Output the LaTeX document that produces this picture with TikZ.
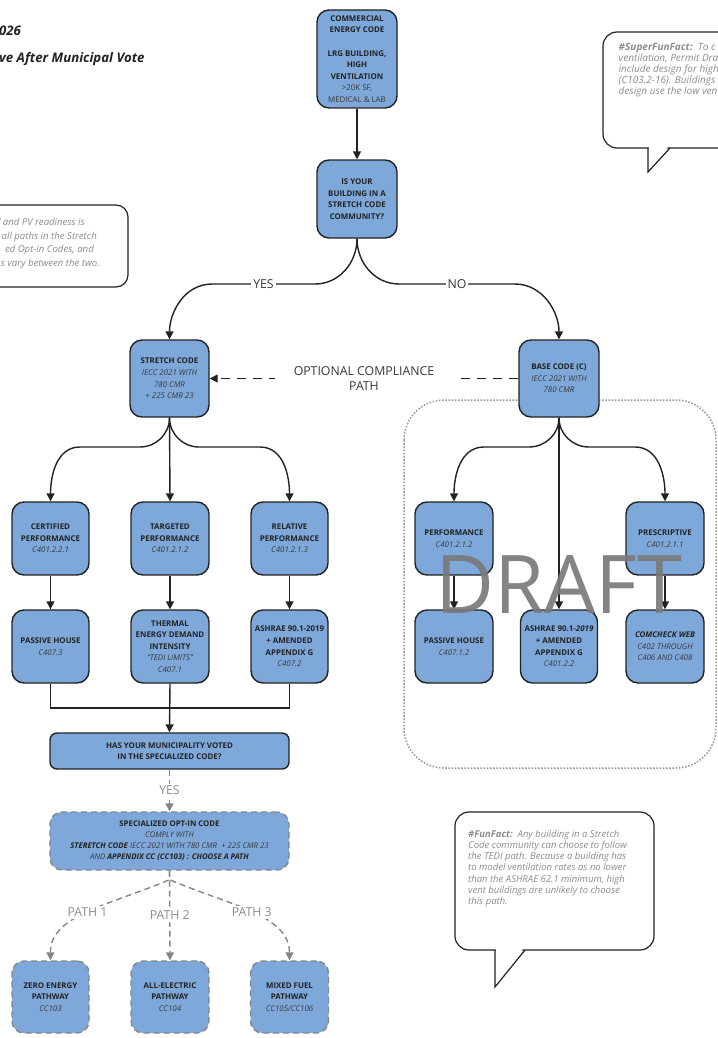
\documentclass[tikz,border=0pt]{standalone}
\usepackage{fontspec}
\setmainfont{Open Sans}
\usetikzlibrary{arrows.meta}

\definecolor{boxblue}{HTML}{7EA8D9}
\definecolor{ink}{HTML}{222222}
\definecolor{subink}{HTML}{383838}
\definecolor{softgray}{HTML}{8C8C8C}
\definecolor{dashgray}{HTML}{858585}
\definecolor{dotgray}{HTML}{9A9A9A}

\newcommand\subtxt[1]{{\mdseries\itshape\color{subink}#1}}
\newcommand\regtxt[1]{{\mdseries\color{subink}#1}}

\tikzset{
  box/.style={draw=ink, line width=1.4pt, fill=boxblue, rounded corners=12pt,
    inner sep=1pt, align=center, text=ink,
    font=\fontsize{7.9}{11.6}\selectfont\bfseries},
  optbox/.style={box, draw=dashgray, dash pattern=on 6pt off 4pt},
  plain/.style={draw=ink, line width=1.4pt},
  link/.style={plain, -{Triangle[length=8pt,width=8pt]}},
  optlink/.style={draw=dashgray, line width=1.4pt, dash pattern=on 6pt off 4pt,
    -{Triangle[length=8pt,width=8pt]}},
  altlink/.style={link, dash pattern=on 9pt off 7pt},
  lab/.style={fill=white, inner sep=2pt, text=subink, font=\fontsize{12.3}{15}\selectfont},
  glab/.style={lab, text=softgray},
  callout/.style={draw=ink, line width=1.2pt, fill=white},
  calltext/.style={inner sep=0pt, align=left, text=softgray,
    font=\fontsize{9.5}{11.2}\selectfont\itshape},
  title/.style={inner sep=0pt, text=ink, font=\fontsize{13.2}{15}\selectfont\bfseries\itshape},
}

\begin{document}
\begin{tikzpicture}[x=1pt,y=-1pt]
\useasboundingbox (0,0) rectangle (717,1038);

% heading
\node[title, anchor=base west] (t1) at (-1,35.5) {026};
\node[title, anchor=base west] (t2) at (-1,62.5) {ve After Municipal Vote};

% speech bubble, upper right
\draw[callout, rounded corners=14pt] (603,32) rectangle (790,148);
\fill[white] (648.8,146.2) -- (648.8,170) -- (668.5,146.2) -- cycle;
\draw[callout, fill=none, line join=miter] (648,148) -- (648,172) -- (670,148);
\foreach \txt/\yb [count=\i] in {{{\bfseries\#SuperFunFact:}\ \ To c}/51,
    {ventilation, Permit Dra}/62,
    {include design for high}/73,
    {(C103.2-16). Buildings}/84,
    {design use the low ven}/95}
  \node[calltext, font=\fontsize{10}{11}\selectfont\itshape, anchor=base west]
    (sf\i) at (618.5,\yb) {\txt};

% note box, left
\draw[callout, rounded corners=12pt] (-40,205) rectangle (128,287);
\foreach \txt/\xe/\yb [count=\i] in {V and PV readiness is/85/225,
    all paths in the Stretch/97/239,
    ed Opt-in Codes{,} and/94/252,
    s vary between the two./100/266}
  \node[calltext, font=\fontsize{9.6}{13}\selectfont\itshape, anchor=base east]
    (lc\i) at (\xe,\yb) {\txt};

% speech bubble, lower right
\draw[callout, rounded corners=14pt] (455,812) rectangle (654,950);
\fill[white] (495.8,948.2) -- (495.8,984) -- (523.5,948.2) -- cycle;
\draw[callout, fill=none, line join=miter] (495,950) -- (495,987) -- (525,950);
\node[calltext, anchor=west] (ff) at (468,868.5)
  {{\bfseries\#FunFact:}\ \ Any building in a Stretch\\
   Code community can choose to follow\\
   the TEDI path. Because a building has\\
   to model ventilation rates as no lower\\
   than the ASHRAE 62.1 minimum, high\\
   vent buildings are unlikely to choose\\
   this path.};

% optional-path region
\draw[dotgray, line width=1.5pt, dash pattern=on 1.6pt off 1.6pt, rounded corners=40pt]
  (404,400) rectangle (716,768);

% decision chain
\node[box, minimum width=80pt, minimum height=98pt] (top) at (357,59)
  {COMMERCIAL\\ENERGY CODE\\[11.6pt]LRG BUILDING,\\HIGH\\VENTILATION\\
   \regtxt{>20K SF,}\\\regtxt{MEDICAL \& LAB}};
\node[box, minimum width=80pt, minimum height=78pt] (q) at (357,199)
  {IS YOUR\\BUILDING IN A\\STRETCH CODE\\COMMUNITY?};

\node[box, minimum width=79pt, minimum height=77pt] (stretch) at (169.5,378.5)
  {STRETCH CODE\\\subtxt{IECC 2021 WITH}\\\subtxt{780 CMR}\\\subtxt{+ 225 CMR 23}};
\node[box, minimum width=80pt, minimum height=77pt] (base) at (559,378.5)
  {BASE CODE (C)\\\subtxt{IECC 2021 WITH}\\\subtxt{780 CMR}};

% stretch code paths
\node[box, minimum width=77pt, minimum height=73pt] (cert) at (50.5,538.5)
  {CERTIFIED\\PERFORMANCE\\\subtxt{C401.2.2.1}};
\node[box, minimum width=78pt, minimum height=73pt] (targ) at (170,538.5)
  {TARGETED\\PERFORMANCE\\\subtxt{C401.2.1.2}};
\node[box, minimum width=77pt, minimum height=73pt] (rel) at (289.5,538.5)
  {RELATIVE\\PERFORMANCE\\\subtxt{C401.2.1.3}};

\node[box, minimum width=77pt, minimum height=73pt] (ph) at (50.5,646.5)
  {PASSIVE HOUSE\\\subtxt{C407.3}};
\node[box, minimum width=78pt, minimum height=73pt] (tedi) at (170,646.5)
  {THERMAL\\ENERGY DEMAND\\INTENSITY\\\subtxt{"TEDI LIMITS"}\\\subtxt{C407.1}};
\node[box, minimum width=77pt, minimum height=73pt] (ash) at (289.5,646.5)
  {ASHRAE 90.1-2019\\+ AMENDED\\APPENDIX G\\\subtxt{C407.2}};

% base code paths
\node[box, minimum width=78pt, minimum height=73pt] (perf) at (454,538.5)
  {PERFORMANCE\\\subtxt{C401.2.1.2}};
\node[box, minimum width=78pt, minimum height=73pt] (presc) at (665,538.5)
  {PRESCRIPTIVE\\\subtxt{C401.2.1.1}};
\node[box, minimum width=78pt, minimum height=73pt] (ph2) at (454,646.5)
  {PASSIVE HOUSE\\\subtxt{C407.1.2}};
\node[box, minimum width=77pt, minimum height=73pt] (ash2) at (559,646.5)
  {ASHRAE 90.1-\textit{2019}\\+ AMENDED\\APPENDIX G\\\subtxt{C401.2.2}};
\node[box, minimum width=78pt, minimum height=73pt] (com) at (665,646.5)
  {\textit{COMCHECK WEB}\\\subtxt{C402 THROUGH}\\\subtxt{C406 AND C408}};

% specialized code
\node[box, rounded corners=7pt, minimum width=239pt, minimum height=36pt] (muni) at (169.5,751)
  {HAS YOUR MUNICIPALITY VOTED\\IN THE SPECIALIZED CODE?};
\node[optbox, font=\fontsize{7.8}{11}\selectfont\bfseries, minimum width=239pt, minimum height=58pt] (spec) at (169.5,841)
  {SPECIALIZED OPT-IN CODE\\\subtxt{COMPLY WITH}\\
   \textit{STERETCH CODE} \subtxt{IECC 2021 WITH 780 CMR\ \ + 225 CMR 23}\\
   \subtxt{AND} \textit{APPENDIX CC (CC103) : CHOOSE A PATH}};

\node[optbox, minimum width=77pt, minimum height=72pt] (zero) at (50.5,997)
  {ZERO ENERGY\\PATHWAY\\\subtxt{CC103}};
\node[optbox, minimum width=78pt, minimum height=72pt] (allel) at (170,997)
  {ALL-ELECTRIC\\PATHWAY\\\subtxt{CC104}};
\node[optbox, minimum width=78pt, minimum height=72pt] (mixed) at (289.5,997)
  {MIXED FUEL\\PATHWAY\\\subtxt{CC105/CC106}};

% connectors
\draw[link] (top.south) -- (q.north);
\draw[link] (q.south) to[out=-90,in=0] (315,284) -- node[lab]{YES} (212,284)
  to[out=180,in=90] (stretch.north);
\draw[link] (q.south) to[out=-90,in=180] (399,284) -- node[lab]{NO} (515,284)
  to[out=0,in=90] (base.north);
\draw[altlink] (base.west) -- node[lab, align=center, minimum width=179pt]
  {OPTIONAL COMPLIANCE\\PATH} (stretch.east);

\draw[link] (stretch.south) to[out=-90,in=0] (140,447) -- (80,447)
  to[out=180,in=90] (cert.north);
\draw[link] (stretch.south) -- (targ.north);
\draw[link] (stretch.south) to[out=-90,in=180] (199,447) -- (260,447)
  to[out=0,in=90] (rel.north);

\draw[link] (cert.south) -- (ph.north);
\draw[link] (targ.south) -- (tedi.north);
\draw[link] (rel.south) -- (ash.north);

\coordinate (join) at (170,708);
\draw[plain] (ph.south) |- (join);
\draw[plain] (ash.south) |- (join);
\draw[link] (tedi.south) -- (muni.north);

\draw[link] (base.south) to[out=-90,in=0] (529,447) -- (484,447)
  to[out=180,in=90] (perf.north);
\draw[link] (base.south) -- (ash2.north);
\draw[link] (base.south) to[out=-90,in=180] (589,447) -- (635,447)
  to[out=0,in=90] (presc.north);
\draw[link] (perf.south) -- (ph2.north);
\draw[link] (presc.south) -- (com.north);

\draw[optlink] (muni.south) -- node[glab]{YES} (spec.north);
\draw[optlink] (spec.south) -- ++(0,9) .. controls (110,905) and (50,915) .. (zero.north)
  node[glab, pos=0.5]{PATH 1};
\draw[optlink] (spec.south) -- node[glab, pos=0.5]{PATH 2} (allel.north);
\draw[optlink] (spec.south) -- ++(0,9) .. controls (229,905) and (289.5,915) .. (mixed.north)
  node[glab, pos=0.5]{PATH 3};

% watermark
\node[inner sep=0pt, text=black!52, opacity=0.92, font=\fontsize{81}{81}\selectfont] (draft)
  at (559,584) {DRAFT};
\end{tikzpicture}
\end{document}
